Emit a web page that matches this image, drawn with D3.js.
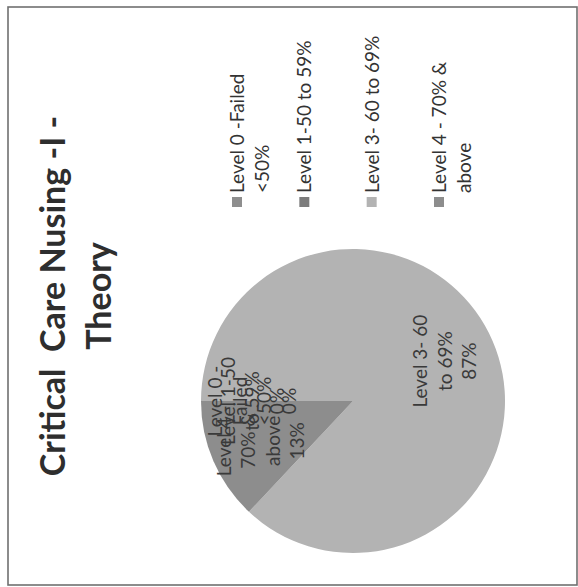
<!DOCTYPE html>
<html><head><meta charset="utf-8">
<script src="https://cdn.jsdelivr.net/npm/d3@7"></script>
<style>html,body{margin:0;padding:0;background:#fff;overflow:hidden}</style>
</head><body>
<script>
// ---- data ----
const categories = ["Level 0 -Failed <50%", "Level 1-50 to 59%", "Level 3- 60 to 69%", "Level 4 - 70% & above"];
const values = [0, 0, 87, 13];
const legendLines = [["Level 0 -Failed", "<50%"], ["Level 1-50 to 59%"], ["Level 3- 60 to 69%"], ["Level 4 - 70% &", "above"]];
const labelLines = [["Level 0 -", "Failed", "<50%", "0%"], ["Level 1-50", "to 59%", "0%"], ["Level 3- 60", "to 69%", "87%"], ["Level 4 -", "70% &", "above", "13%"]];
const titleLines = ["Critical  Care Nusing -I -", "Theory"];
const colors = ["#8e8e8e", "#7c7c7c", "#b3b3b3", "#8d8d8d"];

// ---- page (chart is drawn upright, then rotated 90° counter-clockwise like the scan) ----
const PW = 578, PH = 587;
const svg = d3.select("body").append("svg").attr("width", PW).attr("height", PH);
svg.append("rect").attr("width", PW).attr("height", PH).attr("fill", "#fff");
const g = svg.append("g").attr("transform", `translate(0,${PH}) rotate(-90)`);

// frame
g.append("rect").attr("x", 2).attr("y", 8).attr("width", 578).attr("height", 569)
  .attr("fill", "none").attr("stroke", "#707070").attr("stroke-width", 1.6);

// title
const font = "Lato, 'Open Sans', sans-serif";
g.append("g").selectAll("text").data(titleLines).join("text")
  .attr("x", 291).attr("y", (d, i) => 65 + i * 46)
  .attr("text-anchor", "middle").attr("font-family", font).attr("font-weight", "bold")
  .attr("font-size", 34).attr("fill", "#2e2e2e").style("white-space", "pre")
  .text(d => d);

// pie
const r = 152;
const cx = 186, cy = 353;
const pie = d3.pie().sort(null).value(d => d)(values);
const arc = d3.arc().innerRadius(0).outerRadius(r);
const pg = g.append("g").attr("transform", `translate(${cx},${cy})`);
pg.selectAll("path").data(pie).join("path")
  .attr("d", arc).attr("fill", (d, i) => colors[i]);

// data labels
const labelArc = d3.arc().innerRadius(r * 0.66).outerRadius(r * 0.66);
const lh = 24.6;
const lg = pg.selectAll("g.lbl").data(pie).join("g").attr("class", "lbl")
  .attr("transform", d => `translate(${labelArc.centroid(d)})`);
lg.selectAll("text").data((d, i) => labelLines[i].map((t, k, a) => ({ t, k, n: a.length })))
  .join("text")
  .attr("x", 0).attr("y", d => (d.k - (d.n - 1) / 2) * lh + 6.5)
  .attr("text-anchor", "middle").attr("font-family", font).attr("font-size", 19)
  .attr("fill", "#3a3a3a").text(d => d.t);

// legend
const ly = d3.scalePoint().domain(categories).range([237, 439]);
const leg = g.append("g").selectAll("g").data(categories).join("g")
  .attr("transform", d => `translate(385,${ly(d)})`);
leg.append("rect").attr("x", -5).attr("y", -5).attr("width", 10).attr("height", 10)
  .attr("fill", (d, i) => colors[i]);
leg.selectAll("text").data((d, i) => legendLines[i].map((t, k) => ({ t, k })))
  .join("text")
  .attr("x", 9).attr("y", d => 7 + d.k * 25)
  .attr("font-family", font).attr("font-size", 19).attr("fill", "#333")
  .text(d => d.t);
</script>
</body></html>
